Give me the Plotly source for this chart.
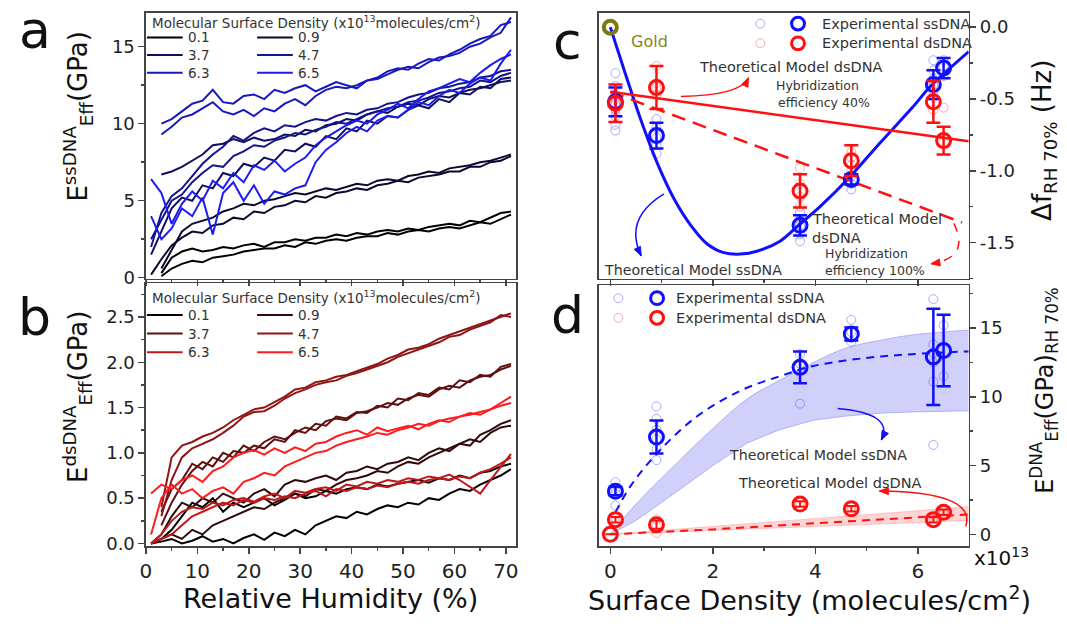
import math
import plotly.graph_objects as go

# ---------------- data ----------------
rh = [1, 3, 5, 7, 9, 11, 13, 15, 17, 19, 21, 23, 25, 27, 29, 31, 33, 35,
      37, 39, 41, 43, 45, 47, 49, 51, 53, 55, 57, 59, 61, 63, 65, 67, 69, 71]

densities = ["0.1", "0.9", "3.7", "4.7", "6.3", "6.5"]

# panel a : ssDNA effective modulus (GPa) vs RH, two runs per density
ss_01_a = [None, 0.1, 0.6, 0.9, 1.1, 1.0, 1.3, 1.4, 1.5, 1.7, 1.8, 1.9, 1.9, 2.1, 2.0, 2.3, 2.2, 2.4, 2.5, 2.4, 2.6, 2.7, 2.7, 2.9, 2.8, 3.0, 3.1, 3.0, 3.2, 3.3, 3.2, 3.4, 3.6, 3.5, 3.8, 4.1]
ss_01_b = [None, 0.3, 1.3, 1.7, 1.9, 1.7, 1.8, 2.0, 1.9, 2.1, 2.2, 2.0, 2.3, 2.3, 2.5, 2.4, 2.6, 2.6, 2.8, 2.7, 2.9, 2.8, 3.0, 3.1, 3.0, 3.2, 3.1, 3.3, 3.4, 3.5, 3.4, 3.7, 3.6, 3.9, 4.2, 4.3]
ss_09_a = [0.2, 1.2, 2.1, 2.6, 3.0, 2.9, 3.4, 3.5, 3.9, 3.8, 4.3, 4.2, 4.6, 4.7, 5.0, 4.9, 5.3, 5.2, 5.5, 5.6, 5.8, 5.7, 6.0, 6.1, 6.3, 6.2, 6.5, 6.6, 6.7, 6.9, 6.9, 7.2, 7.2, 7.5, 7.6, 7.9]
ss_09_b = [None, 0.6, 1.8, 3.0, 3.5, 3.7, 3.9, 4.3, 4.5, 4.8, 4.7, 5.0, 5.1, 5.3, 5.5, 5.4, 5.6, 5.8, 5.7, 5.9, 6.1, 6.0, 6.3, 6.4, 6.3, 6.6, 6.7, 6.9, 6.8, 7.1, 7.2, 7.3, 7.5, 7.6, 7.8, 8.0]
ss_37_a = [None, 6.7, 6.9, 7.2, 7.6, 8.0, 8.6, 8.7, 9.0, 8.8, 9.1, 8.9, 9.0, 9.3, 9.2, 9.6, 9.5, 9.9, 10.0, 10.3, 10.2, 10.6, 10.8, 10.7, 11.1, 11.3, 11.2, 11.6, 11.8, 11.7, 12.0, 12.2, 12.3, 12.5, 12.7, 12.8]
ss_37_b = [1.5, 3.0, 4.5, 5.2, 5.0, 6.0, 5.8, 6.8, 6.6, 7.4, 7.2, 7.8, 7.6, 8.3, 8.2, 8.7, 8.5, 9.2, 9.0, 9.7, 9.5, 10.2, 10.0, 10.5, 10.4, 10.9, 11.2, 11.0, 11.6, 11.4, 12.0, 11.9, 12.4, 12.3, 12.9, 13.0]
ss_47_a = [2.5, 3.8, 5.0, 5.4, 6.2, 6.8, 7.3, 7.2, 7.9, 8.2, 8.6, 8.5, 8.9, 9.1, 9.4, 9.3, 9.6, 9.8, 10.1, 10.0, 10.3, 10.6, 10.8, 11.0, 11.1, 11.4, 11.5, 11.7, 12.0, 12.1, 12.3, 12.4, 12.8, 12.7, 13.1, 13.3]
ss_47_b = [2.0, 4.2, 5.3, 5.8, 6.6, 7.4, 8.0, 8.5, 9.2, 8.9, 9.4, 9.7, 9.5, 9.9, 9.8, 10.1, 10.3, 10.2, 10.5, 10.7, 10.6, 10.9, 11.0, 11.3, 11.4, 11.7, 11.9, 12.0, 12.3, 12.4, 12.6, 12.7, 13.0, 13.1, 13.4, 13.5]
ss_63_a = [None, 10.0, 10.3, 10.8, 11.3, 11.5, 12.2, 11.4, 11.3, 11.8, 11.9, 11.6, 12.2, 12.0, 12.3, 12.5, 12.1, 12.4, 12.7, 12.5, 12.3, 12.8, 13.0, 13.4, 13.6, 13.5, 13.9, 14.2, 14.1, 14.5, 14.8, 15.2, 15.5, 15.7, 16.4, 16.6]
ss_63_b = [None, 9.3, 9.8, 10.4, 10.6, 11.0, 11.4, 10.8, 10.6, 10.9, 10.5, 11.0, 10.8, 11.3, 11.6, 11.2, 11.8, 12.2, 12.4, 12.3, 12.5, 12.8, 12.9, 13.2, 13.5, 13.7, 13.6, 14.0, 14.3, 14.4, 14.6, 15.0, 15.2, 15.6, 15.9, 16.9]
ss_65_a = [6.4, 5.5, 3.5, 4.8, 5.6, 5.0, 6.3, 5.8, 6.8, 6.2, 7.3, 7.0, 7.6, 6.9, 7.4, 7.8, 8.6, 9.1, 9.5, 9.9, 10.2, 10.0, 10.6, 10.9, 11.3, 11.0, 11.6, 12.1, 12.3, 12.6, 12.9, 12.7, 13.3, 13.8, 14.2, 14.5]
ss_65_b = [4.0, 2.5, 3.2, 4.5, 4.0, 5.2, 2.8, 5.5, 6.2, 5.0, 6.0, 4.8, 5.6, 5.4, 5.8, 6.0, 7.5, 8.3, 8.8, 9.4, 9.8, 9.5, 10.2, 10.5, 10.4, 10.9, 11.4, 11.2, 11.8, 12.2, 12.0, 12.6, 13.0, 12.8, 13.9, 14.8]

# panel b : dsDNA effective modulus (GPa) vs RH
ds_01_a = [0.0, 0.02, 0.05, 0.0, 0.03, 0.08, 0.02, 0.05, 0.0, 0.06, 0.10, 0.04, 0.12, 0.08, 0.15, 0.10, 0.20, 0.25, 0.30, 0.28, 0.35, 0.32, 0.38, 0.42, 0.40, 0.45, 0.43, 0.50, 0.48, 0.55, 0.60, 0.58, 0.65, 0.70, 0.75, 0.82]
ds_01_b = [0.0, 0.05, 0.15, 0.30, 0.45, 0.40, 0.50, 0.35, 0.45, 0.40, 0.45, 0.50, 0.42, 0.48, 0.55, 0.50, 0.52, 0.58, 0.55, 0.60, 0.62, 0.60, 0.65, 0.63, 0.66, 0.68, 0.70, 0.67, 0.72, 0.70, 0.75, 0.72, 0.78, 0.80, 0.85, 0.88]
ds_09_a = [0.0, 0.05, 0.10, 0.05, 0.15, 0.10, 0.20, 0.25, 0.30, 0.35, 0.40, 0.38, 0.45, 0.50, 0.55, 0.52, 0.60, 0.58, 0.65, 0.70, 0.72, 0.75, 0.80, 0.78, 0.85, 0.90, 0.88, 0.95, 1.00, 1.05, 1.10, 1.08, 1.20, 1.25, 1.32, 1.36]
ds_09_b = [0.0, 0.10, 0.30, 0.45, 0.40, 0.50, 0.45, 0.55, 0.50, 0.45, 0.55, 0.60, 0.52, 0.65, 0.70, 0.68, 0.72, 0.75, 0.70, 0.78, 0.80, 0.85, 0.82, 0.88, 0.90, 0.95, 0.92, 1.00, 1.05, 1.02, 1.10, 1.15, 1.12, 1.22, 1.28, 1.30]
ds_37_a = [None, 0.35, 0.60, 0.70, 0.88, 0.82, 0.95, 0.90, 1.02, 1.00, 1.08, 1.05, 1.15, 1.12, 1.25, 1.22, 1.32, 1.30, 1.40, 1.38, 1.45, 1.44, 1.52, 1.50, 1.60, 1.58, 1.66, 1.64, 1.72, 1.70, 1.80, 1.78, 1.86, 1.84, 1.95, 1.98]
ds_37_b = [None, 0.20, 0.45, 0.65, 0.80, 0.90, 0.85, 1.00, 0.95, 1.08, 1.02, 1.12, 1.18, 1.15, 1.22, 1.28, 1.25, 1.35, 1.38, 1.36, 1.44, 1.46, 1.50, 1.55, 1.53, 1.60, 1.64, 1.62, 1.70, 1.74, 1.72, 1.80, 1.84, 1.86, 1.92, 1.96]
ds_47_a = [None, 0.40, 0.95, 1.08, 1.12, 1.18, 1.22, 1.28, 1.36, 1.42, 1.48, 1.50, 1.56, 1.62, 1.70, 1.72, 1.78, 1.80, 1.84, 1.86, 1.90, 1.94, 1.98, 2.04, 2.08, 2.14, 2.16, 2.20, 2.26, 2.30, 2.34, 2.38, 2.42, 2.46, 2.50, 2.54]
ds_47_b = [None, 0.30, 0.70, 0.95, 1.05, 1.10, 1.15, 1.22, 1.30, 1.40, 1.45, 1.46, 1.52, 1.60, 1.66, 1.70, 1.75, 1.78, 1.80, 1.85, 1.88, 1.92, 1.96, 2.00, 2.06, 2.10, 2.14, 2.18, 2.22, 2.28, 2.30, 2.36, 2.40, 2.44, 2.52, 2.50]
ds_63_a = [0.0, 0.10, 0.25, 0.35, 0.40, 0.38, 0.45, 0.42, 0.48, 0.50, 0.46, 0.52, 0.55, 0.50, 0.58, 0.56, 0.60, 0.62, 0.58, 0.65, 0.63, 0.68, 0.66, 0.70, 0.68, 0.72, 0.70, 0.74, 0.72, 0.76, 0.70, 0.62, 0.55, 0.70, 0.85, 0.99]
ds_63_b = [0.0, 0.05, 0.10, 0.20, 0.30, 0.35, 0.40, 0.45, 0.42, 0.48, 0.45, 0.50, 0.48, 0.52, 0.50, 0.55, 0.58, 0.52, 0.60, 0.58, 0.62, 0.60, 0.64, 0.62, 0.66, 0.68, 0.66, 0.70, 0.72, 0.70, 0.74, 0.72, 0.78, 0.82, 0.88, 0.95]
ds_65_a = [0.55, 0.65, 0.60, 0.70, 0.75, 0.68, 0.80, 0.85, 0.95, 1.00, 1.03, 0.98, 1.05, 1.00, 1.06, 1.02, 1.10, 1.12, 1.18, 1.22, 1.25, 1.20, 1.28, 1.24, 1.27, 1.30, 1.26, 1.32, 1.36, 1.34, 1.40, 1.42, 1.45, 1.48, 1.55, 1.62]
ds_65_b = [0.10, 0.50, 0.65, 0.55, 0.60, 0.50, 0.58, 0.62, 0.55, 0.68, 0.72, 0.78, 0.75, 0.85, 0.90, 0.95, 1.00, 1.02, 1.08, 1.12, 1.15, 1.18, 1.22, 1.20, 1.25, 1.28, 1.32, 1.30, 1.35, 1.38, 1.40, 1.44, 1.42, 1.48, 1.52, 1.55]

# panel c : frequency shift at RH 70% (Hz)
dens_x = [0.1, 0.9, 3.7, 4.7, 6.3, 6.5]
c_ss_mean = [-0.52, -0.755, -1.38, -1.06, -0.40, -0.285]
c_ss_err = [0.10, 0.09, 0.07, 0.035, 0.10, 0.07]
c_ds_mean = [-0.53, -0.42, -1.14, -0.93, -0.52, -0.79]
c_ds_err = [0.13, 0.15, 0.115, 0.107, 0.145, 0.096]
c_ss_ind_x = [0.1]*8 + [0.9]*5 + [3.7]*5 + [4.7]*3 + [6.3]*5 + [6.5]*3
c_ss_ind_y = [-0.32, -0.41, -0.47, -0.54, -0.58, -0.62, -0.68, -0.72,
              -0.64, -0.70, -0.77, -0.82, -0.88,
              -1.29, -1.34, -1.38, -1.44, -1.49,
              -1.04, -1.09, -1.13,
              -0.23, -0.30, -0.36, -0.40, -0.45,
              -0.23, -0.27, -0.34]
c_ds_ind_x = [0.1]*3 + [0.9]*4 + [3.7]*4 + [4.7]*4 + [6.3]*3 + [6.5]*2
c_ds_ind_y = [-0.50, -0.53, -0.57,
              -0.27, -0.39, -0.42, -0.47,
              -0.98, -1.09, -1.18, -1.25,
              -0.87, -0.91, -0.96, -1.00,
              -0.41, -0.49, -0.575,
              -0.56, -0.80]
gold_x = [0.0]
gold_y = [0.0]
c_model_ss_x = [0, 0.28, 0.60, 0.92, 1.25, 1.57, 1.89, 2.21, 2.54, 2.86, 3.31, 3.67, 4.09, 4.68, 5.25, 5.89, 6.25, 6.99]
c_model_ss_y = [0, -0.31, -0.65, -0.95, -1.20, -1.38, -1.51, -1.57, -1.58, -1.56, -1.49, -1.38, -1.25, -1.04, -0.81, -0.56, -0.41, -0.17]
c_model_ds40_x = [0.0, 6.99]
c_model_ds40_y = [-0.45, -0.795]
c_model_ds100_x = [0.0, 6.86]
c_model_ds100_y = [-0.45, -1.36]

# panel d : effective modulus at RH 70% (GPa)
d_ss_mean = [3.14, 7.07, 12.14, 14.57, 12.9, 13.36]
d_ss_err = [0.3, 1.2, 1.15, 0.47, 3.5, 2.6]
d_ds_x = [0.0, 0.1, 0.9, 3.7, 4.7, 6.3, 6.5]
d_ds_mean = [0.0, 1.07, 0.70, 2.2, 1.86, 1.07, 1.6]
d_ds_err = [0.0, 0.2, 0.3, 0.2, 0.2, 0.2, 0.2]
d_ss_ind_x = [0.1]*4 + [0.9]*6 + [3.7]*3 + [4.7]*3 + [6.3]*6 + [6.5]*2
d_ss_ind_y = [3.8, 3.3, 2.95, 2.1,
              9.3, 8.4, 7.6, 6.9, 6.2, 5.4,
              13.1, 12.4, 9.5,
              15.6, 14.7, 14.0,
              17.1, 13.8, 13.2, 12.5, 11.1, 6.5,
              15.2, 11.5]
d_ds_ind_x = [0.1]*2 + [0.9]*3 + [3.7]*2 + [4.7]*2 + [6.3]*2 + [6.5]*2
d_ds_ind_y = [1.2, 0.9, 1.1, 0.6, 0.1, 2.3, 2.0, 2.0, 1.7, 1.2, 0.9, 1.7, 1.5]
d_model_ss_x = [0.1, 0.41, 0.99, 1.70, 2.54, 3.31, 3.96, 4.93, 5.89, 6.99]
d_model_ss_y = [1.6, 3.6, 6.2, 8.6, 10.45, 11.5, 12.24, 12.8, 13.1, 13.3]
d_band_ss_x = [0, 0.5, 1.37, 2.0, 2.67, 3.3, 3.96, 4.6, 5.25, 5.89, 6.99]
d_band_ss_lo = [0, 1.0, 3.3, 5.0, 6.64, 7.6, 8.3, 8.6, 8.8, 8.9, 8.98]
d_band_ss_hi = [0, 2.2, 5.45, 7.7, 9.86, 11.2, 12.5, 13.55, 14.1, 14.5, 14.86]
d_model_ds_x = [0, 2, 4, 6.99]
d_model_ds_y = [0, 0.36, 0.81, 1.45]
d_band_ds_lo = [0, 0.3, 0.6, 1.0]
d_band_ds_hi = [0, 0.55, 1.15, 2.0]

# tick labels
a_yticks = [0, 5, 10, 15]
b_yticks = [0.0, 0.5, 1.0, 1.5, 2.0, 2.5]
rh_ticks = [0, 10, 20, 30, 40, 50, 60, 70]
sd_ticks = [0, 2, 4, 6]
c_yticks = [0.0, -0.5, -1.0, -1.5]
d_yticks = [0, 5, 10, 15]

# ---------------- styling ----------------
W, H = 1067, 629
FONT = "DejaVu Sans"
def px(X): return X / W
def py(Y): return 1 - Y / H

ss_colors = ["#000000", "#0a0a30", "#101060", "#14148f", "#1818c0", "#1c1cf0"]
ds_colors = ["#000000", "#300a0a", "#601010", "#901414", "#c01818", "#ff1c1c"]
BLUE = "#1010ff"
RED = "#ff1010"
FAINT_B = "rgba(70,70,255,0.45)"
FAINT_R = "rgba(255,70,70,0.45)"
TXT = "#333333"

fig = go.Figure()

ss_runs = [(ss_01_a, ss_01_b), (ss_09_a, ss_09_b), (ss_37_a, ss_37_b),
           (ss_47_a, ss_47_b), (ss_63_a, ss_63_b), (ss_65_a, ss_65_b)]
ds_runs = [(ds_01_a, ds_01_b), (ds_09_a, ds_09_b), (ds_37_a, ds_37_b),
           (ds_47_a, ds_47_b), (ds_63_a, ds_63_b), (ds_65_a, ds_65_b)]
for i, (r1, r2) in enumerate(ss_runs):
    for r in (r1, r2):
        fig.add_trace(go.Scatter(x=rh, y=r, mode="lines", xaxis="x", yaxis="y",
                                 line=dict(color=ss_colors[i], width=2),
                                 showlegend=False, connectgaps=False))
for i, (r1, r2) in enumerate(ds_runs):
    for r in (r1, r2):
        fig.add_trace(go.Scatter(x=rh, y=r, mode="lines", xaxis="x2", yaxis="y2",
                                 line=dict(color=ds_colors[i], width=2),
                                 showlegend=False, connectgaps=False))

# panel c
fig.add_trace(go.Scatter(x=c_ss_ind_x, y=c_ss_ind_y, mode="markers", xaxis="x3", yaxis="y3",
                         marker=dict(symbol="circle-open", size=9, color=FAINT_B, line=dict(width=1)),
                         showlegend=False))
fig.add_trace(go.Scatter(x=c_ds_ind_x, y=c_ds_ind_y, mode="markers", xaxis="x3", yaxis="y3",
                         marker=dict(symbol="circle-open", size=9, color=FAINT_R, line=dict(width=1)),
                         showlegend=False))
fig.add_trace(go.Scatter(x=c_model_ss_x, y=c_model_ss_y, mode="lines", xaxis="x3", yaxis="y3",
                         line=dict(color=BLUE, width=3, shape="spline", smoothing=0.8), showlegend=False))
fig.add_trace(go.Scatter(x=c_model_ds40_x, y=c_model_ds40_y, mode="lines", xaxis="x3", yaxis="y3",
                         line=dict(color=RED, width=2.5), showlegend=False))
fig.add_trace(go.Scatter(x=c_model_ds100_x, y=c_model_ds100_y, mode="lines", xaxis="x3", yaxis="y3",
                         line=dict(color=RED, width=2.5, dash="14px,8px"), showlegend=False))
fig.add_trace(go.Scatter(x=dens_x, y=c_ss_mean, mode="markers", xaxis="x3", yaxis="y3",
                         error_y=dict(type="data", array=c_ss_err, color=BLUE, thickness=2.5, width=7),
                         marker=dict(symbol="circle-open", size=14, color=BLUE, line=dict(width=3)),
                         showlegend=False))
fig.add_trace(go.Scatter(x=dens_x, y=c_ds_mean, mode="markers", xaxis="x3", yaxis="y3",
                         error_y=dict(type="data", array=c_ds_err, color=RED, thickness=2.5, width=7),
                         marker=dict(symbol="circle-open", size=14, color=RED, line=dict(width=3)),
                         showlegend=False))
fig.add_trace(go.Scatter(x=gold_x, y=gold_y, mode="markers", xaxis="x3", yaxis="y3",
                         marker=dict(symbol="circle-open", size=13, color="#7a7a10", line=dict(width=4)),
                         showlegend=False, cliponaxis=False))

# panel d
fig.add_trace(go.Scatter(x=d_band_ss_x, y=d_band_ss_lo, mode="lines", xaxis="x4", yaxis="y4",
                         line=dict(color="rgba(120,120,240,0.6)", width=0.8), showlegend=False))
fig.add_trace(go.Scatter(x=d_band_ss_x, y=d_band_ss_hi, mode="lines", xaxis="x4", yaxis="y4",
                         line=dict(color="rgba(120,120,240,0.6)", width=0.8, shape="spline"),
                         fill="tonexty", fillcolor="rgba(150,150,245,0.45)", showlegend=False))
fig.add_trace(go.Scatter(x=d_model_ds_x, y=d_band_ds_lo, mode="lines", xaxis="x4", yaxis="y4",
                         line=dict(color="rgba(255,150,150,0.6)", width=0.8), showlegend=False))
fig.add_trace(go.Scatter(x=d_model_ds_x, y=d_band_ds_hi, mode="lines", xaxis="x4", yaxis="y4",
                         line=dict(color="rgba(255,150,150,0.6)", width=0.8),
                         fill="tonexty", fillcolor="rgba(255,160,160,0.45)", showlegend=False))
fig.add_trace(go.Scatter(x=d_model_ss_x, y=d_model_ss_y, mode="lines", xaxis="x4", yaxis="y4",
                         line=dict(color=BLUE, width=2, dash="8px,6px", shape="spline"), showlegend=False))
fig.add_trace(go.Scatter(x=d_model_ds_x, y=d_model_ds_y, mode="lines", xaxis="x4", yaxis="y4",
                         line=dict(color=RED, width=2, dash="8px,6px"), showlegend=False))
fig.add_trace(go.Scatter(x=d_ss_ind_x, y=d_ss_ind_y, mode="markers", xaxis="x4", yaxis="y4",
                         marker=dict(symbol="circle-open", size=9, color=FAINT_B, line=dict(width=1)),
                         showlegend=False))
fig.add_trace(go.Scatter(x=d_ds_ind_x, y=d_ds_ind_y, mode="markers", xaxis="x4", yaxis="y4",
                         marker=dict(symbol="circle-open", size=9, color=FAINT_R, line=dict(width=1)),
                         showlegend=False))
fig.add_trace(go.Scatter(x=dens_x, y=d_ss_mean, mode="markers", xaxis="x4", yaxis="y4",
                         error_y=dict(type="data", array=d_ss_err, color=BLUE, thickness=2.5, width=7),
                         marker=dict(symbol="circle-open", size=14, color=BLUE, line=dict(width=3)),
                         showlegend=False))
fig.add_trace(go.Scatter(x=d_ds_x, y=d_ds_mean, mode="markers", xaxis="x4", yaxis="y4",
                         error_y=dict(type="data", array=d_ds_err, color=RED, thickness=2, width=5),
                         marker=dict(symbol="circle-open", size=14, color=RED, line=dict(width=3)),
                         showlegend=False, cliponaxis=False))

# ---------------- axes ----------------
AX = dict(showline=True, linecolor="#444", linewidth=1.5, mirror=True, showgrid=False,
          zeroline=False, ticks="outside", ticklen=6, tickwidth=1.5, tickcolor="#444",
          tickfont=dict(family=FONT, size=18, color="#222"))

def fmt1(v):
    return ("%.1f" % v)

MINOR = dict(ticks="outside", ticklen=3, tickcolor="#444")
fig.update_layout(
    xaxis=dict(AX, domain=[px(141), px(514)], anchor="y", range=[0, 72],
               tickvals=rh_ticks, showticklabels=False,
               minor=dict(MINOR, dtick=5, tick0=0)),
    yaxis=dict(AX, domain=[py(283), py(13)], anchor="x", range=[-0.05, 17.2],
               tickvals=a_yticks, ticktext=[str(v) for v in a_yticks],
               minor=dict(MINOR, dtick=2.5, tick0=0)),
    xaxis2=dict(AX, domain=[px(141), px(514)], anchor="y2", range=[0, 72],
                tickvals=rh_ticks, ticktext=[str(v) for v in rh_ticks],
                tickfont=dict(family=FONT, size=20, color="#222"),
                minor=dict(MINOR, dtick=5, tick0=0)),
    yaxis2=dict(AX, domain=[py(555), py(288)], anchor="x2", range=[-0.03, 2.87],
                tickvals=b_yticks, ticktext=[fmt1(v) for v in b_yticks],
                minor=dict(MINOR, dtick=0.25, tick0=0)),
    xaxis3=dict(AX, domain=[px(597), px(970)], anchor="y3", range=[-0.23, 6.99],
                tickvals=sd_ticks, showticklabels=False,
                minor=dict(MINOR, dtick=1, tick0=0)),
    yaxis3=dict(AX, domain=[py(283), py(13)], anchor="x3", side="right", range=[-1.75, 0.1],
                tickvals=c_yticks, ticktext=[fmt1(v).replace("-0.0", "0.0") for v in c_yticks],
                minor=dict(MINOR, dtick=0.25, tick0=0)),
    xaxis4=dict(AX, domain=[px(597), px(970)], anchor="y4", range=[-0.23, 6.99],
                tickvals=sd_ticks, ticktext=[str(v) for v in sd_ticks],
                tickfont=dict(family=FONT, size=20, color="#222"),
                minor=dict(MINOR, dtick=1, tick0=0)),
    yaxis4=dict(AX, domain=[py(555), py(290)], anchor="x4", side="right", range=[-0.86, 18.1],
                tickvals=d_yticks, ticktext=[str(v) for v in d_yticks],
                minor=dict(MINOR, dtick=2.5, tick0=0)),
)

# ---------------- annotations & decorations ----------------
ann = []
shapes = []

def text(X, Y, s, size, color=TXT, xanchor="center", angle=0):
    ann.append(dict(x=px(X), y=py(Y), xref="paper", yref="paper", text=s, showarrow=False,
                    xanchor=xanchor, yanchor="middle", textangle=angle,
                    font=dict(family=FONT, size=size, color=color)))

def seg(X0, Y0, X1, Y1, color, width=2):
    shapes.append(dict(type="line", xref="paper", yref="paper", x0=px(X0), y0=py(Y0),
                       x1=px(X1), y1=py(Y1), line=dict(color=color, width=width)))

def circ(X, Y, r, color, width):
    shapes.append(dict(type="circle", xref="paper", yref="paper", x0=px(X - r), x1=px(X + r),
                       y0=py(Y + r), y1=py(Y - r), line=dict(color=color, width=width),
                       fillcolor="rgba(0,0,0,0)"))

def curve(X0, Y0, CX, CY, X1, Y1, color, dash="solid", width=1.5):
    shapes.append(dict(type="path", xref="paper", yref="paper",
                       path=f"M {px(X0)},{py(Y0)} Q {px(CX)},{py(CY)} {px(X1)},{py(Y1)}",
                       line=dict(color=color, width=width, dash=dash)))
    dx, dy = X1 - CX, Y1 - CY
    n = math.hypot(dx, dy)
    ux, uy = dx / n, dy / n
    L, w = 9, 3.5
    bx, by = X1 - L * ux, Y1 - L * uy
    p1 = (bx - w * uy, by + w * ux)
    p2 = (bx + w * uy, by - w * ux)
    shapes.append(dict(type="path", xref="paper", yref="paper",
                       path=f"M {px(X1)},{py(Y1)} L {px(p1[0])},{py(p1[1])} L {px(p2[0])},{py(p2[1])} Z",
                       fillcolor=color, line=dict(color=color, width=1)))

# panel letters
text(29, 30, "a", 52, "#111")
text(29, 322, "b", 52, "#111")
text(566, 42, "c", 52, "#111")
text(566, 320, "d", 52, "#111")

# axis titles
text(72, 118, "E<sup>ssDNA</sup><sub>Eff</sub>(GPa)", 26, "#111", angle=-90)
text(72, 403, "E<sup>dsDNA</sup><sub>Eff</sub>(GPa)", 26, "#111", angle=-90)
text(1046, 143, "Δf<sub>RH 70%</sub> (Hz)", 26, "#111", angle=-90)
text(1046, 397, "E<sup>DNA</sup><sub>Eff</sub>(GPa)<sub>RH 70%</sub>", 24, "#111", angle=-90)
text(327, 608, "Relative Humidity (%)", 27, "#111")
text(810, 608, "Surface Density (molecules/cm<sup>2</sup>)", 27, "#111")
text(1003, 566, "x10<sup>13</sup>", 20, "#111")

# legends of panels a and b
leg_title = "Molecular Surface Density (x10<sup>13</sup>molecules/cm<sup>2</sup>)"
for (top, rows, cols) in [(22, (38, 56, 74), ss_colors), (302, (320, 339, 358), ds_colors)]:
    text(145, top, leg_title, 13.5, "#333", xanchor="left")
    for k, lab in enumerate(densities):
        r, c = divmod(k, 2)
        X0 = 142 if c == 0 else 253
        Y = rows[r]
        seg(X0, Y, X0 + 36, Y, cols[k], 2)
        text(X0 + 39, Y, lab, 13.5, "#333", xanchor="left")

# legends of panels c and d
for (Xs, Xb, Xt, Y1, Y2) in [(760, 798, 820, 24, 44), (617, 656, 673, 303, 323)]:
    circ(Xs, Y1, 4.5, FAINT_B, 1)
    circ(Xb, Y1, 6.5, BLUE, 3)
    text(Xt, Y1, "Experimental ssDNA", 14.5, TXT, xanchor="left")
    circ(Xs, Y2, 4.5, FAINT_R, 1)
    circ(Xb, Y2, 6.5, RED, 3)
    text(Xt, Y2, "Experimental dsDNA", 14.5, TXT, xanchor="left")

# panel c annotations
text(628, 42, "Gold", 16, "#85851a", xanchor="left")
text(791, 68, "Theoretical Model dsDNA", 14.5)
text(818, 87, "Hybridization", 12.5)
text(824, 104, "efficiency 40%", 12.5)
text(810, 223, "Theoretical Model", 14.5, xanchor="left")
text(810, 242, "dsDNA", 14.5, xanchor="left")
text(823, 258, "Hybridization", 12.5, xanchor="left")
text(823, 275, "efficiency 100%", 12.5, xanchor="left")
text(600, 274, "Theoretical Model ssDNA", 14.2, xanchor="left")
curve(680, 98, 740, 97, 748, 79, RED)
curve(663, 197, 622, 222, 640, 260, BLUE)
curve(955, 227, 972, 262, 932, 268, RED, dash="dash")

# panel d annotations
text(818, 462, "Theoretical Model ssDNA", 14.2)
text(830, 491, "Theoretical Model dsDNA", 14.5)
curve(838, 415, 895, 420, 882, 447, BLUE)
curve(967, 535, 978, 500, 880, 499, RED)

fig.update_layout(
    width=W, height=H, autosize=False,
    margin=dict(l=0, r=0, t=0, b=0),
    paper_bgcolor="white", plot_bgcolor="white",
    showlegend=False,
    annotations=ann, shapes=shapes,
    font=dict(family=FONT),
    hovermode=False,
)

fig.write_html("out.html", config={"displayModeBar": False, "staticPlot": True},
               post_script="document.body.style.margin='0';")
